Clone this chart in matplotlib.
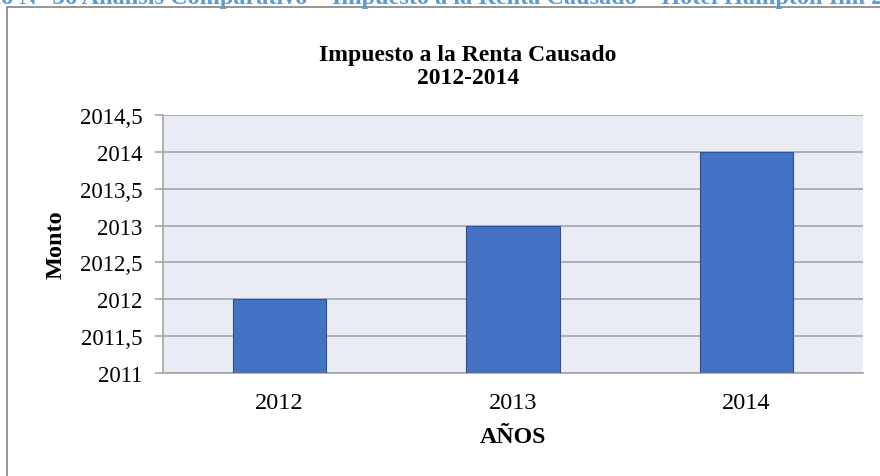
import matplotlib
matplotlib.use("Agg")
import matplotlib.pyplot as plt
from matplotlib.patches import Rectangle
from matplotlib.ticker import FuncFormatter, MultipleLocator

years = ["2012", "2013", "2014"]
montos = [2012, 2013, 2014]
title = "Impuesto a la Renta Causado\n2012-2014"
caption = "Gráfico N° 36 Análisis Comparativo – Impuesto a la Renta Causado – Hotel Hampton Inn 2012-2014"
xlabel = "AÑOS"
ylabel = "Monto"

plt.rcParams["font.family"] = ["Liberation Serif", "DejaVu Serif"]

W, H = 880, 477
fig = plt.figure(figsize=(W / 100, H / 100), dpi=100)
fig.patch.set_facecolor("white")

# outer chart frame (only top/left visible in the crop)
fig.add_artist(Rectangle((7 / W, -0.1), 1.2, (H - 7.5) / H + 0.1, transform=fig.transFigure,
                         fill=False, edgecolor="#8c8c8c", linewidth=1.3))

# cut-off caption at the very top
fig.text(-66 / W, 1 - 4 / H, caption, ha="left", va="baseline", fontsize=17.5,
         fontweight="bold", color="#5B9BD5")

ax = fig.add_axes([163 / W, 1 - 374 / H, (863 - 163) / W, (374 - 116) / H])
ax.set_facecolor("#E9EBF5")
x = range(len(years))
ax.bar(x, montos, width=0.4, color="#4472C4", edgecolor="#2F528F", linewidth=0.8, zorder=3)
ax.set_xlim(-0.5, len(years) - 0.5)
ax.set_ylim(2011, 2014.5)
ax.yaxis.set_major_locator(MultipleLocator(0.5))

def fmt(v, pos):
    if abs(v - round(v)) < 1e-9:
        return f"{int(round(v))}"
    return f"{v:.1f}".replace(".", ",")

ax.yaxis.set_major_formatter(FuncFormatter(fmt))
ax.set_xticks(list(x))
ax.set_xticklabels(years)
ax.grid(axis="y", color="#A6A6A6", linewidth=1.2, zorder=0)
ax.set_axisbelow(True)
for s in ["top", "right"]:
    ax.spines[s].set_visible(False)
for s in ["left", "bottom"]:
    ax.spines[s].set_color("#A6A6A6")
    ax.spines[s].set_linewidth(1.2)
ax.tick_params(axis="y", length=6, width=1.2, color="#A6A6A6", pad=9, labelsize=16.5)
ax.tick_params(axis="x", length=0, pad=14, labelsize=17.5)

fig.text(56 / W, 1 - 245 / H, ylabel, rotation=90, ha="center", va="center",
         fontsize=17.5, fontweight="bold")
fig.text(513 / W, 1 - 438 / H, xlabel, ha="center", va="center",
         fontsize=17.2, fontweight="bold")
fig.text(468 / W, 1 - 67 / H, title, ha="center", va="center", fontsize=17,
         fontweight="bold", linespacing=1.15)

fig.savefig("out.png", dpi=100)
